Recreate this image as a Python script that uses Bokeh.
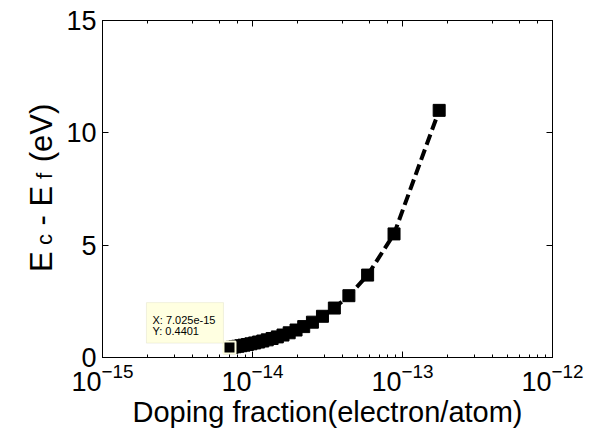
import math
from bokeh.plotting import figure
from bokeh.models import Range1d, LogAxis, LinearAxis, FixedTicker, LogTicker, Label, BoxAnnotation
from bokeh.embed import file_html
from bokeh.resources import INLINE

# ---------------- data ----------------
doping = [7.025e-15, 7.318e-15, 7.636e-15, 7.983e-15, 8.363e-15, 8.781e-15,
          9.243e-15, 9.757e-15, 1.033e-14, 1.098e-14, 1.171e-14, 1.254e-14,
          1.351e-14, 1.464e-14, 1.597e-14, 1.756e-14, 1.951e-14, 2.195e-14,
          2.509e-14, 2.927e-14, 3.513e-14, 4.391e-14, 5.854e-14, 8.781e-14,
          1.756e-13]
energy = [0.4401, 0.458, 0.478, 0.500, 0.524, 0.550,
          0.579, 0.611, 0.647, 0.688, 0.734, 0.786,
          0.846, 0.917, 1.000, 1.100, 1.223, 1.375,
          1.572, 1.834, 2.201, 2.751, 3.668, 5.501,
          11.00]
y_ticks = [0, 5, 10, 15]
x_label = "Doping fraction(electron/atom)"
NB = "\u00a0"
# y label "E_c - E_f (eV)": main line and the subscripts line (spaced with no-break spaces)
y_label_main = "E" + NB * 3 + "-" + NB + "E" + NB * 2 + "\u2009" + "(eV)"
y_label_subs = "c" + NB * 9 + "f"

# ---------------- layout ----------------
FONT = "Liberation Sans"
W, H = 591, 432
FL, FT, FW, FH = 102, 20, 450, 337
XLOG0, XLOG1 = -15, -12
Y0, Y1 = 0, 15


def xd(px):
    return 10 ** (XLOG0 + (px - FL) / FW * (XLOG1 - XLOG0))


def yd(py):
    return Y0 + (FT + FH - py) / FH * (Y1 - Y0)


def px_of(x):
    return FL + (math.log10(x) - XLOG0) / (XLOG1 - XLOG0) * FW


def py_of(y):
    return FT + FH - (y - Y0) / (Y1 - Y0) * FH


p = figure(width=W, height=H, x_axis_type="log",
           x_range=Range1d(10 ** XLOG0, 10 ** XLOG1), y_range=Range1d(Y0, Y1),
           output_backend="svg", toolbar_location=None,
           min_border_left=FL, min_border_top=FT,
           min_border_right=W - FL - FW, min_border_bottom=H - FT - FH)
p.background_fill_color = "white"
p.border_fill_color = "white"
p.outline_line_color = "black"
p.xgrid.visible = False
p.ygrid.visible = False


def style_axis(ax, labels):
    ax.axis_line_color = "black"
    ax.axis_line_width = 1
    ax.major_tick_line_color = "black"
    ax.minor_tick_line_color = "black"
    ax.major_tick_in = 6
    ax.major_tick_out = 0
    ax.minor_tick_in = 3
    ax.minor_tick_out = 0
    if labels:
        ax.major_label_text_font = FONT
        ax.major_label_text_font_size = "27px"
        ax.major_label_text_color = "black"
        ax.major_label_standoff = 6
    else:
        ax.major_label_text_font_size = "1px"
        ax.major_label_text_color = None
        ax.major_label_standoff = 0


# bottom / left
xa = p.xaxis[0]
style_axis(xa, True)
xa.major_label_standoff = 5
xa.axis_label = x_label
xa.axis_label_text_font = FONT
xa.axis_label_text_font_size = "29px"
xa.axis_label_text_font_style = "normal"
xa.axis_label_text_color = "black"
xa.axis_label_standoff = 2
ya = p.yaxis[0]
ya.ticker = FixedTicker(ticks=y_ticks, minor_ticks=[])
style_axis(ya, True)

# mirrored top / right
top = LogAxis(ticker=LogTicker())
style_axis(top, False)
p.add_layout(top, "above")
right = LinearAxis(ticker=FixedTicker(ticks=y_ticks, minor_ticks=[]))
style_axis(right, False)
p.add_layout(right, "right")

# data
p.line(doping, energy, line_width=4, line_dash="11 5", line_color="black")
p.scatter(doping, energy, marker="square", size=12, fill_color="black",
          line_color="black", line_width=1)
p.scatter([doping[0]], [energy[0]], marker="square", size=12, fill_color="black",
          line_color="#FFFFE1", line_width=2)

# datatip
px0, py0 = px_of(doping[0]), py_of(energy[0])
p.add_layout(BoxAnnotation(left=xd(px0 - 83), right=xd(px0 - 6),
                           top=yd(py0 - 45), bottom=yd(py0 - 4.5),
                           fill_color="#FFFFE1", fill_alpha=1.0,
                           line_color="#CFCFB4", line_width=1, level="overlay"))
for txt, dy in ((f"X: {doping[0]:.4g}", 28), (f"Y: {energy[0]:.4g}", 16.5)):
    p.add_layout(Label(x=xd(px0 - 77), y=yd(py0 - dy), text=txt, text_font=FONT,
                       text_font_size="11px", text_color="black",
                       text_align="left", text_baseline="alphabetic", level="overlay"))

# y axis label, rotated, placed in side panels so it is not clipped by the frame
p.add_layout(Label(x=xd(41), y=yd(271.4), text=y_label_main, text_font=FONT,
                   text_font_size="31px", text_color="black",
                   angle=math.pi / 2, angle_units="rad",
                   text_align="left", text_baseline="alphabetic"), "left")
p.add_layout(Label(x=xd(43.5), y=yd(244.5), text=y_label_subs, text_font=FONT,
                   text_font_size="22px", text_color="black",
                   angle=math.pi / 2, angle_units="rad",
                   text_align="left", text_baseline="alphabetic"), "right")

open("out.html", "w").write(file_html(p, INLINE))
